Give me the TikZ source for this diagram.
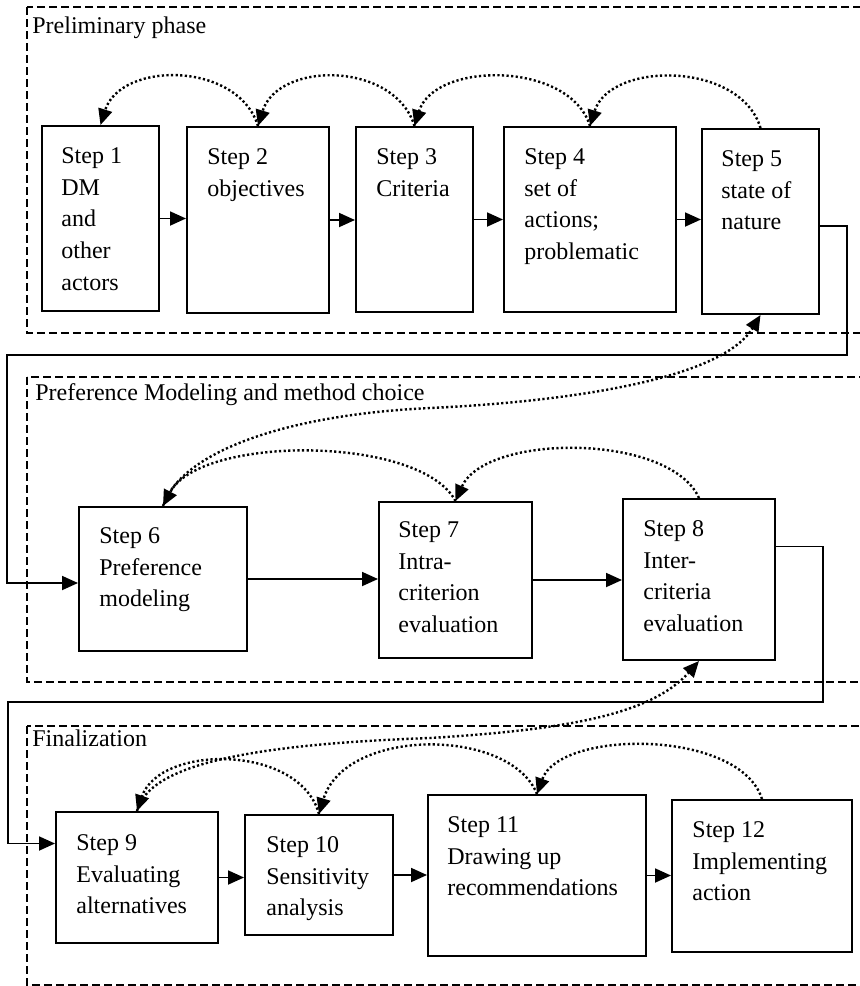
\documentclass[tikz,border=0pt]{standalone}
\usepackage{fontspec}
\setmainfont{Liberation Serif}
\usetikzlibrary{arrows.meta}
\newcommand{\firstline}{\rule{0pt}{9pt}}
\begin{document}
\begin{tikzpicture}[x=0.5pt,y=-0.5pt,
  stepbox/.style={draw, line width=1pt, inner sep=0pt},
  steptext/.style={anchor=north west, align=left, inner sep=0pt, font=\fontsize{12}{15.85}\selectfont},
  phase/.style={draw, line width=0.75pt, dash pattern=on 4pt off 2pt},
  phasetitle/.style={anchor=base west, inner sep=0pt, font=\fontsize{12}{15.85}\selectfont},
  flow/.style={line width=0.9pt, -{Triangle[length=8pt,width=7pt]}},
  back/.style={line width=1.2pt, dash pattern=on 1.1pt off 1.2pt, -{Triangle[length=8pt,width=7pt]}}
]
\useasboundingbox (0,0) rectangle (860,986);

% phase frames (open to the right)
\draw[phase] (27,7) rectangle (880,333);
\draw[phase] (27,377) rectangle (880,682);
\draw[phase] (27,726) rectangle (880,985);
\node[phasetitle] (p1) at (32,33) {Preliminary phase};
\node[phasetitle] (p2) at (35,400) {Preference Modeling and method choice};
\node[phasetitle] (p3) at (32,746) {Finalization};

% step boxes
\node[stepbox, minimum width=58.5pt, minimum height=92.5pt] (s1) at (100.5,218.5) {};
\node[stepbox, minimum width=71pt,   minimum height=93pt]   (s2) at (258,220) {};
\node[stepbox, minimum width=58.5pt, minimum height=92.5pt] (s3) at (414.5,219.5) {};
\node[stepbox, minimum width=86pt,   minimum height=92.5pt] (s4) at (590,219.5) {};
\node[stepbox, minimum width=58.5pt, minimum height=92.5pt] (s5) at (760.5,221.5) {};
\node[stepbox, minimum width=84pt,   minimum height=72pt]   (s6) at (163,579) {};
\node[stepbox, minimum width=76.5pt, minimum height=78pt]   (s7) at (455.5,580) {};
\node[stepbox, minimum width=76pt,   minimum height=80.5pt] (s8) at (699,579.5) {};
\node[stepbox, minimum width=81pt,   minimum height=65.5pt] (s9) at (137,877.5) {};
\node[stepbox, minimum width=74pt,   minimum height=60pt]   (s10) at (319,875) {};
\node[stepbox, minimum width=109pt,  minimum height=80.5pt] (s11) at (537,875.5) {};
\node[stepbox, minimum width=90pt,   minimum height=76pt]   (s12) at (762,876) {};

% step texts: first baseline 19pt below the box top
\node[steptext] (t1) at ([xshift=10pt,yshift=-10pt]s1.north west) {\firstline Step 1\\DM\\and\\other\\actors};
\node[steptext] (t2) at ([xshift=10.5pt,yshift=-10pt]s2.north west) {\firstline Step 2\\objectives};
\node[steptext] (t3) at ([xshift=10.5pt,yshift=-10pt]s3.north west) {\firstline Step 3\\Criteria};
\node[steptext] (t4) at ([xshift=10.5pt,yshift=-10pt]s4.north west) {\firstline Step 4\\set of\\actions;\\problematic};
\node[steptext] (t5) at ([xshift=10pt,yshift=-10pt]s5.north west) {\firstline Step 5\\state of\\nature};
\node[steptext] (t6) at ([xshift=10.5pt,yshift=-9.5pt]s6.north west) {\firstline Step 6\\Preference\\modeling};
\node[steptext] (t7) at ([xshift=10pt,yshift=-9pt]s7.north west) {\firstline Step 7\\Intra-\\criterion\\evaluation};
\node[steptext] (t8) at ([xshift=10.5pt,yshift=-10pt]s8.north west) {\firstline Step 8\\Inter-\\criteria\\evaluation};
\node[steptext] (t9) at ([xshift=10.5pt,yshift=-10.5pt]s9.north west) {\firstline Step 9\\Evaluating\\alternatives};
\node[steptext] (t10) at ([xshift=11pt,yshift=-10pt]s10.north west) {\firstline Step 10\\Sensitivity\\analysis};
\node[steptext] (t11) at ([xshift=10pt,yshift=-10pt]s11.north west) {\firstline Step 11\\Drawing up\\recommendations};
\node[steptext] (t12) at ([xshift=10.5pt,yshift=-10pt]s12.north west) {\firstline Step 12\\Implementing\\action};

% forward flow inside each phase
\draw[flow] (s1.east) -- (s1.east -| s2.west);
\draw[flow] (s2.east) -- (s2.east -| s3.west);
\draw[flow] (s3.east) -- (s3.east -| s4.west);
\draw[flow] (s4.east) -- (s4.east -| s5.west);
\draw[flow] (s6.east) -- (s6.east -| s7.west);
\draw[flow] (s7.east) -- (s7.east -| s8.west);
\draw[flow] (s9.east) -- (s9.east -| s10.west);
\draw[flow] (s10.east) -- (s10.east -| s11.west);
\draw[flow] (s11.east) -- (s11.east -| s12.west);

% transitions between phases
\coordinate (r1) at (847,355);
\coordinate (l1) at (7,355);
\coordinate (r2) at (823,702);
\coordinate (l2) at (8,702);
\draw[flow] ([yshift=-2.25pt]s5.east) -| (r1) -- (l1) |- ([yshift=-2pt]s6.west);
\draw[flow] ([yshift=16.5pt]s8.east) -| (r2) -- (l2) |- ([yshift=17pt]s9.west);

% feedback loops
\draw[back] (s2.north) .. controls +(-20,-65) and +(20,-64) .. (s1.north);
\draw[back] (s3.north) .. controls +(-20,-65) and +(20,-65) .. (s2.north);
\draw[back] (s4.north) .. controls +(-20,-65) and +(20,-65) .. (s3.north);
\draw[back] (s5.north) .. controls +(-20,-67) and +(20,-65) .. (s4.north);

\coordinate (m1) at (430,408);
\draw[back] (s6.north) .. controls +(17,-52) and +(-150,7) .. (m1)
  .. controls +(130,-6) and +(-40,66) .. (s5.south);
\draw[back] (s7.north) .. controls +(-35,-66) and +(37,-71) .. (s6.north);
\draw[back] (s8.north) .. controls +(-29,-65) and +(30,-68) .. (s7.north);

\coordinate (m2) at (430,738);
\draw[back] (s9.north) .. controls +(11,-42) and +(-200,7) .. (m2)
  .. controls +(130,-8) and +(-49,55) .. (s8.south);
\draw[back] (s10.north) .. controls +(-19,-70) and +(23,-67) .. (s9.north);
\draw[back] (s11.north) .. controls +(-27,-67) and +(26,-87) .. (s10.north);
\draw[back] (s12.north) .. controls +(-22,-70) and +(23,-65) .. (s11.north);
\end{tikzpicture}
\end{document}
